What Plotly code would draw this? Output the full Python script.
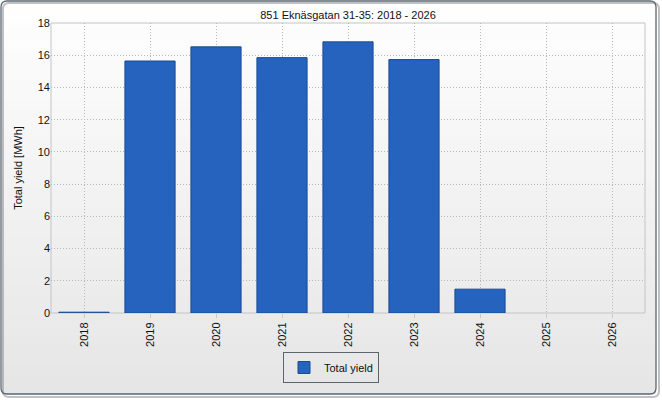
import plotly.graph_objects as go

years = ["2018", "2019", "2020", "2021", "2022", "2023", "2024", "2025", "2026"]
yield_mwh = [0.05, 15.64, 16.52, 15.85, 16.83, 15.73, 1.48, 0, 0]
y_ticks = [0, 2, 4, 6, 8, 10, 12, 14, 16, 18]

W, H = 662, 400
L, R, T, B = 51, 17, 23, 87
PW, PH = W - L - R, H - T - B

def px(x):
    return (x - L) / PW

def py(y):
    return (H - B - y) / PH

FONT = "Liberation Sans"

fig = go.Figure()
fig.add_trace(go.Bar(
    x=years, y=yield_mwh, name="Total yield",
    marker=dict(color="#2563be",
                line=dict(color="#1b4b91", width=[1 if v > 0 else 0 for v in yield_mwh])),
    width=0.76,
))

shapes = []
n = 40
for i in range(n):
    y0 = 1 + i * (393 / n)
    y1 = 1 + (i + 1) * (393 / n)
    t = (i + 0.5) / n
    c = int(255 - t * (255 - 230))
    shapes.append(dict(type="rect", xref="paper", yref="paper",
                       x0=px(2), x1=px(656), y0=py(y0), y1=py(y1 + 0.5),
                       fillcolor=f"rgb({c},{c},{c})", line=dict(width=0), layer="below"))

def rounded(x0, y0, x1, y1, r):
    return (f"M {px(x0+r)},{py(y0)} L {px(x1-r)},{py(y0)} Q {px(x1)},{py(y0)} {px(x1)},{py(y0+r)} "
            f"L {px(x1)},{py(y1-r)} Q {px(x1)},{py(y1)} {px(x1-r)},{py(y1)} "
            f"L {px(x0+r)},{py(y1)} Q {px(x0)},{py(y1)} {px(x0)},{py(y1-r)} "
            f"L {px(x0)},{py(y0+r)} Q {px(x0)},{py(y0)} {px(x0+r)},{py(y0)} Z")

shapes.append(dict(type="path", xref="paper", yref="paper", path=rounded(3, 3, 659, 397, 6),
                   line=dict(color="rgba(150,150,150,0.6)", width=2), layer="below"))
shapes.append(dict(type="path", xref="paper", yref="paper", path=rounded(1, 1, 656, 394, 6),
                   line=dict(color="#5b6570", width=1.3), layer="below"))
shapes.append(dict(type="rect", xref="paper", yref="paper", x0=0, x1=1, y0=0, y1=1,
                   line=dict(color="#c4c4c4", width=1), layer="below"))

fig.update_layout(
    width=W, height=H,
    margin=dict(l=L, r=R, t=T, b=B, autoexpand=False),
    paper_bgcolor="white", plot_bgcolor="rgba(0,0,0,0)",
    font=dict(family=FONT, size=11, color="#111111"),
    title=dict(text="851 Eknäsgatan 31-35: 2018 - 2026", x=0.5, xanchor="center", xref="paper",
               y=1 - 15 / H, yanchor="middle", font=dict(family=FONT, size=11, color="#111111")),
    showlegend=True,
    legend=dict(orientation="h", x=px(331), xanchor="center", y=py(352), yanchor="top",
                bordercolor="#5b6570", borderwidth=1, bgcolor="rgba(0,0,0,0)",
                font=dict(family=FONT, size=11)),
    shapes=shapes,
)
fig.update_xaxes(
    type="category", tickangle=-90, showgrid=True, gridcolor="#b8b8b8", griddash="1px,2px",
    gridwidth=1, ticks="outside", ticklen=4, tickcolor="#c8c8c8", showline=False,
    tickfont=dict(family=FONT, size=11), range=[-0.5, 8.5], automargin=False,
)
fig.update_yaxes(
    range=[0, 18], tickvals=y_ticks, showgrid=True, gridcolor="#b8b8b8", griddash="1px,2px",
    gridwidth=1, zeroline=False, showline=False, ticks="", tickfont=dict(family=FONT, size=11),
    title=dict(text="Total yield [MWh]", font=dict(family=FONT, size=11), standoff=12),
    automargin=False,
)

fig.write_html("out.html", config={"displayModeBar": False},
               post_script="document.body.style.margin='0';document.body.style.padding='0';")
